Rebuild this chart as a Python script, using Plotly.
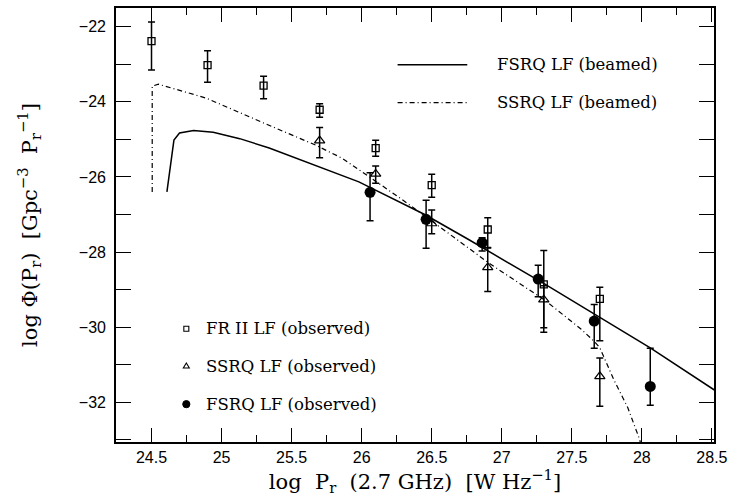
import plotly.graph_objects as go

# ---------------- data ----------------
# FR II LF (observed) - open squares
fr2_x = [24.5, 24.9, 25.3, 25.7, 26.1, 26.5, 26.9, 27.3, 27.7]
fr2_y = [-22.38, -23.02, -23.57, -24.21, -25.23, -26.22, -27.40, -28.86, -29.25]
fr2_up = [0.51, 0.38, 0.25, 0.16, 0.21, 0.29, 0.31, 0.90, 0.31]
fr2_lo = [0.77, 0.46, 0.35, 0.20, 0.22, 0.32, 0.49, 1.28, 1.11]

# SSRQ LF (observed) - open triangles
ssrq_x = [25.7, 26.1, 26.5, 26.9, 27.3, 27.7]
ssrq_y = [-25.03, -25.92, -27.24, -28.41, -29.27, -31.31]
ssrq_up = [0.35, 0.21, 0.36, 0.53, 0.37, 0.49]
ssrq_lo = [0.46, 0.25, 0.27, 0.64, 0.75, 0.80]

# FSRQ LF (observed) - filled circles
fsrq_x = [26.06, 26.46, 26.86, 27.26, 27.66, 28.06]
fsrq_y = [-26.41, -27.13, -27.75, -28.72, -29.84, -31.58]
fsrq_up = [0.52, 0.51, 0.13, 0.37, 0.44, 1.02]
fsrq_lo = [0.76, 0.77, 0.22, 0.47, 0.72, 0.50]

# FSRQ LF (beamed) - solid curve
fsrq_beam_x = [24.61, 24.66, 24.70, 24.80, 24.94, 25.13, 25.34, 25.67, 25.98,
               26.45, 26.76, 27.305, 27.68, 28.06, 28.52]
fsrq_beam_y = [-26.40, -25.02, -24.83, -24.76, -24.81, -24.98, -25.23, -25.69, -26.13,
               -27.00, -27.66, -28.85, -29.69, -30.55, -31.68]

# SSRQ LF (beamed) - dash-dot curve
ssrq_beam_x = [24.505, 24.505, 24.55, 24.89, 25.33, 25.67, 25.86, 26.0, 26.25, 26.51,
               26.76, 26.91, 27.31, 27.565, 27.66, 27.70, 27.80, 27.90, 27.98, 28.0]
ssrq_beam_y = [-26.40, -23.58, -23.53, -23.90, -24.61, -25.15, -25.50, -25.86, -26.50, -27.20,
               -27.90, -28.30, -29.29, -30.05, -30.38, -30.55, -31.40, -32.15, -32.95, -33.2]

x_tick_vals = [24.5, 25, 25.5, 26, 26.5, 27, 27.5, 28, 28.5]
x_tick_text = ["24.5", "25", "25.5", "26", "26.5", "27", "27.5", "28", "28.5"]
y_tick_vals = [-22, -24, -26, -28, -30, -32]
y_tick_text = ["\u221222", "\u221224", "\u221226", "\u221228", "\u221230", "\u221232"]

legend_lines = ["FSRQ LF (beamed)", "SSRQ LF (beamed)"]
legend_points = ["FR II LF (observed)", "SSRQ LF (observed)", "FSRQ LF (observed)"]

# ---------------- figure ----------------
SERIF = "DejaVu Serif"
SANS = "Liberation Sans"
fig = go.Figure()

fig.add_trace(go.Scatter(x=fsrq_beam_x, y=fsrq_beam_y, mode="lines",
                         line=dict(color="black", width=1.5), showlegend=False))
fig.add_trace(go.Scatter(x=ssrq_beam_x, y=ssrq_beam_y, mode="lines",
                         line=dict(color="black", width=1.2, dash="5px,3px,1px,3px"),
                         showlegend=False))

def err(up, lo):
    return dict(type="data", symmetric=False, array=up, arrayminus=lo,
                color="black", thickness=1.5, width=3.5)

fig.add_trace(go.Scatter(x=fr2_x, y=fr2_y, mode="markers", error_y=err(fr2_up, fr2_lo),
                         marker=dict(symbol="square-open", size=7, color="black",
                                     line=dict(width=1.3, color="black")),
                         showlegend=False))
fig.add_trace(go.Scatter(x=ssrq_x, y=ssrq_y, mode="markers", error_y=err(ssrq_up, ssrq_lo),
                         marker=dict(symbol="triangle-up-open", size=9, color="black",
                                     line=dict(width=1.2, color="black")),
                         showlegend=False))
fig.add_trace(go.Scatter(x=fsrq_x, y=fsrq_y, mode="markers", error_y=err(fsrq_up, fsrq_lo),
                         marker=dict(symbol="circle", size=11, color="black"),
                         showlegend=False))

# ---------------- legends (drawn as shapes + annotations) ----------------
shapes = []
annotations = []
# top right line legend
line_leg_y = [0.8693, 0.7821]
line_dash = ["solid", "5px,3px,1px,3px"]
line_w = [1.5, 1.2]
for txt, yy, dsh, lw in zip(legend_lines, line_leg_y, line_dash, line_w):
    shapes.append(dict(type="line", xref="paper", yref="paper", x0=0.4709, x1=0.5874,
                       y0=yy, y1=yy, line=dict(color="black", width=lw, dash=dsh)))
    annotations.append(dict(xref="paper", yref="paper", x=0.6339, y=yy, text=txt,
                            showarrow=False, xanchor="left", yanchor="middle",
                            font=dict(family=SERIF, size=16.5, color="black")))

# bottom left point legend
pt_leg_y = [0.2608, 0.175, 0.0872]
sym_x = 0.1176
# square
shapes.append(dict(type="rect", xref="paper", yref="paper", xsizemode="pixel", ysizemode="pixel",
                   xanchor=sym_x, yanchor=pt_leg_y[0], x0=-2.5, x1=2.5, y0=-2.5, y1=2.5,
                   line=dict(color="black", width=1.1)))
# triangle
shapes.append(dict(type="path", xref="paper", yref="paper", xsizemode="pixel", ysizemode="pixel",
                   xanchor=sym_x, yanchor=pt_leg_y[1], path="M-3,-2 L3,-2 L0,3 Z",
                   line=dict(color="black", width=1.1)))
# circle
shapes.append(dict(type="circle", xref="paper", yref="paper", xsizemode="pixel", ysizemode="pixel",
                   xanchor=sym_x, yanchor=pt_leg_y[2], x0=-3.6, x1=3.6, y0=-3.6, y1=3.6,
                   fillcolor="black", line=dict(color="black", width=1)))
for txt, yy in zip(legend_points, pt_leg_y):
    annotations.append(dict(xref="paper", yref="paper", x=0.1469, y=yy, text=txt,
                            showarrow=False, xanchor="left", yanchor="middle",
                            font=dict(family=SERIF, size=16.5, color="black")))

axis_common = dict(showline=True, linecolor="black", linewidth=1.6, mirror="ticks",
                   ticks="inside", tickcolor="black", tickwidth=1.3, showgrid=False,
                   zeroline=False, tickfont=dict(family=SANS, size=16, color="black"))

fig.update_layout(
    width=734, height=502,
    margin=dict(l=116, r=17, t=6, b=60),
    paper_bgcolor="white", plot_bgcolor="white",
    shapes=shapes, annotations=annotations,
    xaxis=dict(range=[24.2465, 28.515], tickmode="array", tickvals=x_tick_vals,
               ticktext=x_tick_text, ticklen=14,
               minor=dict(tickmode="linear", tick0=24.25, dtick=0.25, ticklen=7,
                          ticks="inside", tickcolor="black", tickwidth=1.3),
               title=dict(text="log\u00a0\u00a0P<sub>r</sub>\u00a0\u00a0(2.7 GHz)\u00a0\u00a0[W Hz<sup>\u22121</sup>]",
                          font=dict(family=SERIF, size=21, color="black"), standoff=4),
               **axis_common),
    yaxis=dict(range=[-33.06, -21.5], tickmode="array", tickvals=y_tick_vals,
               ticktext=y_tick_text, ticklen=15, ticklabelstandoff=5,
               minor=dict(tickmode="linear", tick0=-33, dtick=1, ticklen=15,
                          ticks="inside", tickcolor="black", tickwidth=1.3),
               title=dict(text="log\u00a0\u03a6(P<sub>r</sub>)\u00a0\u00a0[Gpc<sup>\u22123</sup>\u00a0\u00a0P<sub>r</sub><sup>\u22121</sup>]",
                          font=dict(family=SERIF, size=21, color="black"), standoff=36),
               **axis_common),
)

fig.write_html("out.html", config={"displayModeBar": False},
               post_script="document.body.style.margin='0';document.body.style.padding='0';")
